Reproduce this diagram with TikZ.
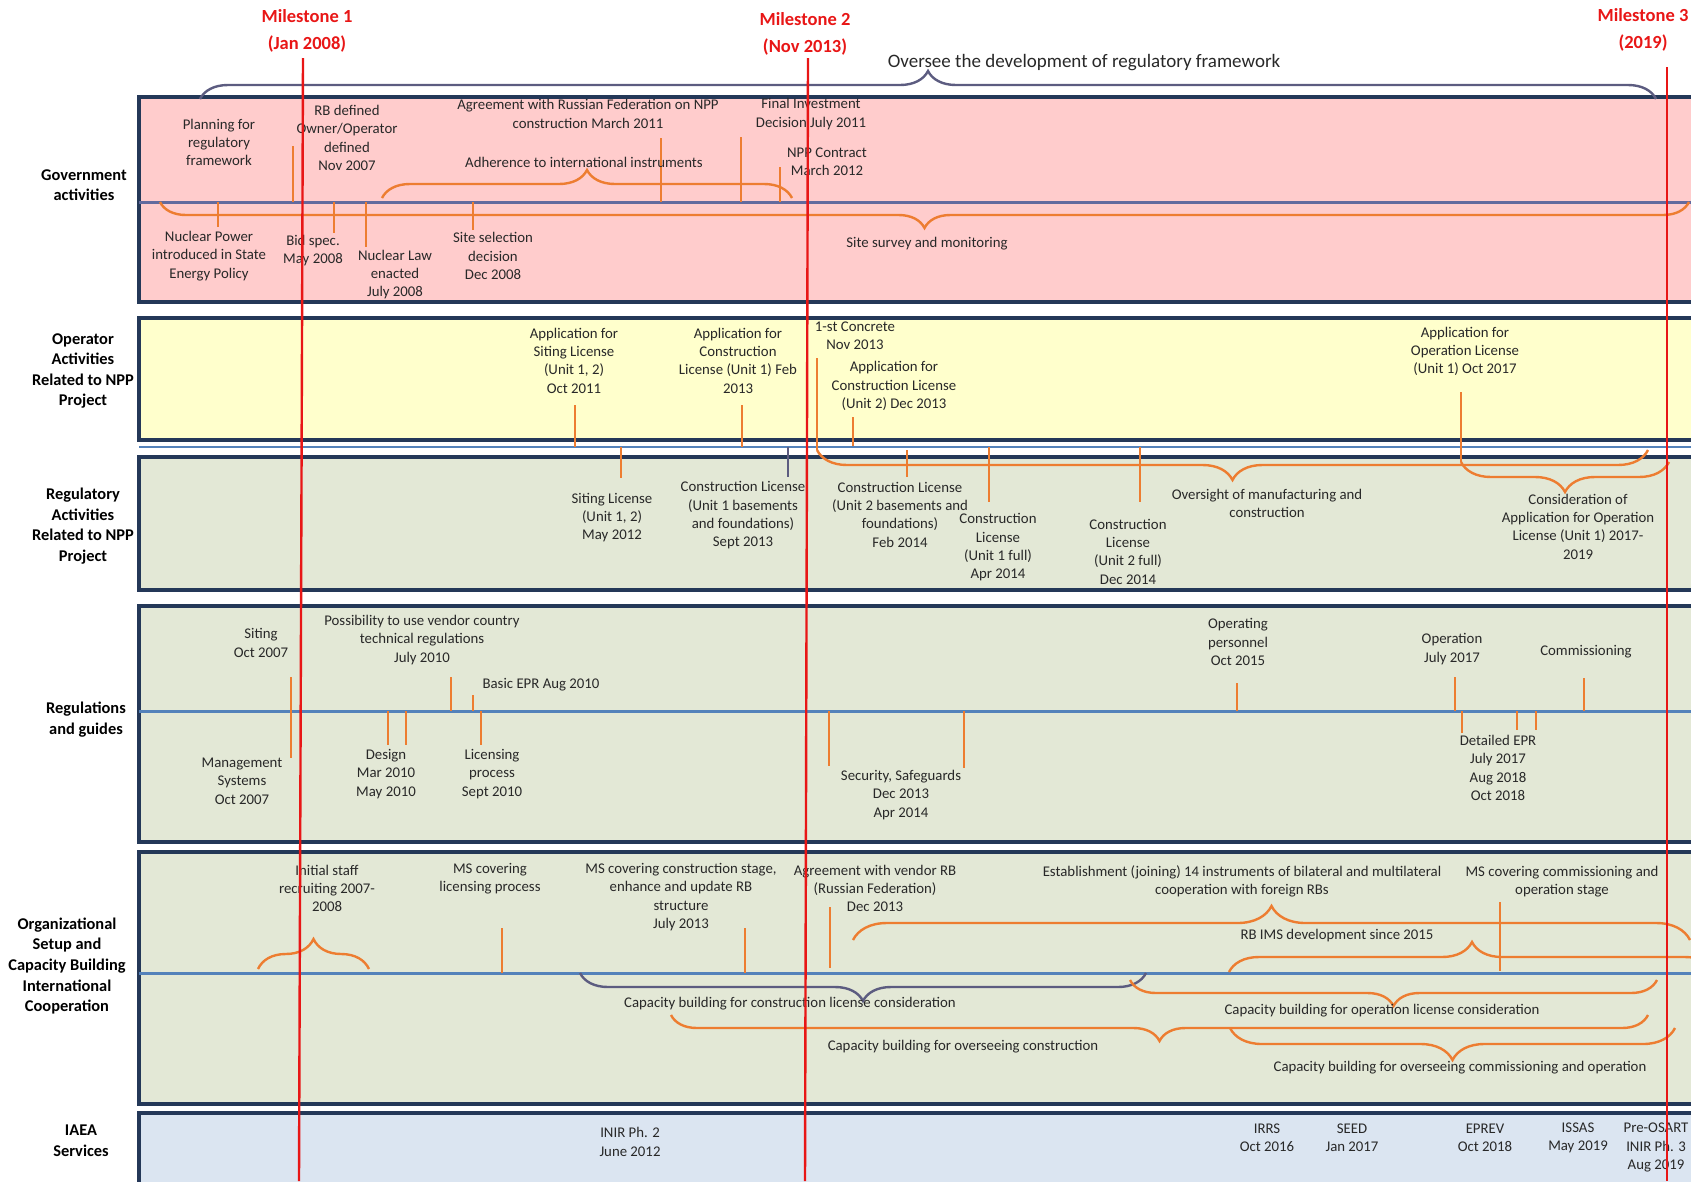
\documentclass[tikz,border=0pt]{standalone}
\usepackage{fontspec}
\setmainfont{Carlito}
\usetikzlibrary{decorations.pathreplacing}

\definecolor{navy}{RGB}{36,56,88}
\definecolor{pinkband}{RGB}{255,204,204}
\definecolor{yellowband}{RGB}{255,255,204}
\definecolor{greyband}{RGB}{227,232,214}
\definecolor{blueband}{RGB}{219,229,241}
\definecolor{axisblue}{RGB}{84,130,186}
\definecolor{axispurple}{RGB}{98,106,158}
\definecolor{bracegrey}{RGB}{92,92,128}
\definecolor{tlorange}{RGB}{237,125,49}
\definecolor{msred}{RGB}{232,22,22}
\definecolor{txtgrey}{RGB}{40,40,40}

\tikzset{
  band/.style={draw=navy, line width=3.5pt},
  lbl/.style={align=center, inner sep=0pt, text=txtgrey, font=\fontsize{14.8}{18.3}\selectfont},
  hdr/.style={align=center, inner sep=0pt, font=\bfseries\fontsize{16.4}{20.6}\selectfont},
  mslbl/.style={align=center, inner sep=0pt, text=msred, font=\bfseries\fontsize{18.5}{27}\selectfont},
  tickln/.style={tlorange, line width=1.4pt},
  brup/.style={line width=2.4pt, decorate, decoration={brace, amplitude=#1}},
  brdown/.style={line width=2.4pt, decorate, decoration={brace, mirror, amplitude=#1}},
  msline/.style={msred, line width=2.4pt}
}

\begin{document}
\begin{tikzpicture}[x=1pt,y=-1pt]

  \useasboundingbox (0,0) rectangle (1691,1181);
  \clip (0,0) rectangle (1691,1181);

  % bands
  \draw[band, fill=pinkband]   (139,97)   rectangle (1720,302);
  \draw[band, fill=yellowband] (139,318)  rectangle (1720,440);
  \draw[axisblue, line width=2pt] (139,447) -- (1720,447);
  \draw[band, fill=greyband]   (139,457)  rectangle (1720,590);
  \draw[band, fill=greyband]   (139,606)  rectangle (1720,842);
  \draw[band, fill=greyband]   (139,852)  rectangle (1720,1104);
  \draw[band, fill=blueband]   (139,1113) rectangle (1720,1200);

  % time axes
  \draw[axispurple, line width=3pt] (139,202) -- (1720,202);
  \draw[axisblue, line width=3pt] (139,711) -- (1720,711);
  \draw[axisblue, line width=3pt] (139,973) -- (1720,973);

  % braces
  \draw[brup=28pt, bracegrey] (200,99) -- (1656,99);
  \draw[brup=28pt, tlorange] (382,198) -- (792,198);
  \draw[brdown=26pt, tlorange] (160,202) -- (1689,202);
  \draw[brdown=30pt, tlorange] (817,450) -- (1648,450);
  \draw[brdown=30pt, tlorange] (1461,462) -- (1669,462);
  \draw[brup=30pt, tlorange] (258,969) -- (369,969);
  \draw[brup=34pt, tlorange] (853,940) -- (1690,940);
  \draw[brup=30pt, tlorange] (1229,972) -- (1715,972);
  \draw[brdown=28pt, bracegrey] (580,973) -- (1146,973);
  \draw[brdown=26pt, tlorange] (1130,980) -- (1657,980);
  \draw[brdown=26pt, tlorange] (671,1015) -- (1648,1015);
  \draw[brdown=32pt, tlorange] (1230,1028) -- (1675,1028);

  % tick marks
  \foreach \x/\ya/\yb in {293/146/202, 218/202/227, 334/202/233, 366/202/247,
      473/202/230, 661/138/202, 741/137/202, 780/167/202,
      575/405/447, 742/405/447, 853/417/446, 817/358/450, 1461/392/462,
      621/447/478, 907/450/477, 989/447/502, 1140/447/502,
      291/677/758, 451/677/711, 473/695/711, 388/711/745, 406/711/745,
      481/711/745, 829/711/766, 964/711/768, 1237/683/711, 1455/677/711,
      1584/678/711, 1462/711/733, 1517/711/730, 1536/711/730,
      502/928/973, 745/928/973, 830/907/968, 1500/902/971}
    \draw[tickln] (\x,\ya) -- (\x,\yb);
  \draw[bracegrey, line width=1.4pt] (788,447) -- (788,477);

  % row headers
  \node[hdr] (govhdr) at (84,185) {Government\\activities};
  \node[hdr] (ophdr) at (83,371) {Operator\\Activities\\Related to NPP\\Project};
  \node[hdr] (reghdr) at (83,526) {Regulatory\\Activities\\Related to NPP\\Project};
  \node[hdr] (guidehdr) at (86,719.5) {Regulations\\and guides};
  \node[hdr] (orghdr) at (67,966) {Organizational\\Setup and\\Capacity Building\\International\\Cooperation};
  \node[hdr] (iaeahdr) at (81,1140.5) {IAEA\\Services};

  % government activities
  \node[lbl, font=\fontsize{19}{22}\selectfont] (oversee) at (1084,63) {Oversee the development of regulatory framework};
  \node[lbl] (planning) at (219,142.5) {Planning for\\regulatory\\framework};
  \node[lbl] (rbdefined) at (347,138) {RB defined\\Owner/Operator\\defined\\Nov 2007};
  \node[lbl] (agreeru) at (588,114) {Agreement with Russian Federation on NPP\\construction March 2011};
  \node[lbl] (finalinv) at (811,114) {Final Investment\\Decision July 2011};
  \node[lbl] (nppcontract) at (827,162) {NPP Contract\\March 2012};
  \node[lbl] (adherence) at (584,162) {Adherence to international instruments};
  \node[lbl] (nucpower) at (209,256) {Nuclear Power\\introduced in State\\Energy Policy};
  \node[lbl] (bidspec) at (313,250.5) {Bid spec.\\May 2008};
  \node[lbl] (nuclaw) at (395,274.5) {Nuclear Law\\enacted\\July 2008};
  \node[lbl] (sitesel) at (493,256) {Site selection\\decision\\Dec 2008};
  \node[lbl] (sitesurvey) at (927,244) {Site survey and monitoring};

  % operator activities
  \node[lbl] (appsiting) at (574,360.5) {Application for\\Siting License\\(Unit 1, 2)\\Oct 2011};
  \node[lbl] (appconone) at (738,360.5) {Application for\\Construction\\License (Unit 1) Feb\\2013};
  \node[lbl] (concrete) at (855,336) {1-st Concrete\\Nov 2013};
  \node[lbl] (appcontwo) at (894,386) {Application for\\Construction License\\(Unit 2) Dec 2013};
  \node[lbl] (appoper) at (1465,351.5) {Application for\\Operation License\\(Unit 1) Oct 2017};

  % regulatory activities
  \node[lbl] (sitinglic) at (612,517.5) {Siting License\\(Unit 1, 2)\\May 2012};
  \node[lbl] (conlicone) at (743,515.5) {Construction License\\(Unit 1 basements\\and foundations)\\Sept 2013};
  \node[lbl] (conlictwo) at (900,514.5) {Construction License\\(Unit 2 basements and\\foundations)\\Feb 2014};
  \node[lbl] (fullone) at (998,547.5) {Construction\\License\\(Unit 1 full)\\Apr 2014};
  \node[lbl] (fulltwo) at (1128,551.5) {Construction\\License\\(Unit 2 full)\\Dec 2014};
  \node[lbl] (oversight) at (1267,503.5) {Oversight of manufacturing and\\construction};
  \node[lbl] (consider) at (1578,526.5) {Consideration of\\Application for Operation\\License (Unit 1) 2017-\\2019};

  % regulations and guides
  \node[lbl] (siting) at (261,643) {Siting\\Oct 2007};
  \node[lbl] (mgmt) at (242,781) {Management\\Systems\\Oct 2007};
  \node[lbl] (vendor) at (422,640) {Possibility to use vendor country\\technical regulations\\July 2010};
  \node[lbl] (basicepr) at (541,685) {Basic EPR Aug 2010};
  \node[lbl] (design) at (386,774) {Design\\Mar 2010\\May 2010};
  \node[lbl] (licproc) at (492,774) {Licensing\\process\\Sept 2010};
  \node[lbl] (security) at (901,795) {Security, Safeguards\\Dec 2013\\Apr 2014};
  \node[lbl] (operpers) at (1238,642) {Operating\\personnel\\Oct 2015};
  \node[lbl] (operation) at (1452,649) {Operation\\July 2017};
  \node[lbl] (commiss) at (1586,652) {Commissioning};
  \node[lbl] (detepr) at (1498,768) {Detailed EPR\\July 2017\\Aug 2018\\Oct 2018};

  % organizational setup
  \node[lbl] (initstaff) at (327,888.5) {Initial staff\\recruiting 2007-\\2008};
  \node[lbl] (mslic) at (490,879) {MS covering\\licensing process};
  \node[lbl] (msconstr) at (681,897) {MS covering construction stage,\\enhance and update RB\\structure\\July 2013};
  \node[lbl] (agreevendor) at (875,888.5) {Agreement with vendor RB\\(Russian Federation)\\Dec 2013};
  \node[lbl] (establish) at (1242,881.5) {Establishment (joining) 14 instruments of bilateral and multilateral\\cooperation with foreign RBs};
  \node[lbl] (mscomm) at (1562,881.5) {MS covering commissioning and\\operation stage};
  \node[lbl] (rbims) at (1337,936) {RB IMS development since 2015};
  \node[lbl] (cbconlic) at (790,1004) {Capacity building for construction license consideration};
  \node[lbl] (cboperlic) at (1382,1011) {Capacity building for operation license consideration};
  \node[lbl] (cbovcon) at (963,1047) {Capacity building for overseeing construction};
  \node[lbl] (cbovcomm) at (1460,1068) {Capacity building for overseeing commissioning and operation};

  % IAEA services
  \node[lbl] (inirtwo) at (630,1142) {INIR Ph. 2\\June 2012};
  \node[lbl] (irrs) at (1267,1138) {IRRS\\Oct 2016};
  \node[lbl] (seed) at (1352,1138) {SEED\\Jan 2017};
  \node[lbl] (eprev) at (1485,1138) {EPREV\\Oct 2018};
  \node[lbl] (issas) at (1578,1138) {ISSAS\\May 2019};
  \node[lbl] (preosart) at (1656,1147.5) {Pre-OSART\\INIR Ph. 3\\Aug 2019};

  % milestones
  \node[mslbl] (msone) at (307,30.5) {Milestone 1\\(Jan 2008)};
  \node[mslbl] (mstwo) at (805,33.5) {Milestone 2\\(Nov 2013)};
  \node[mslbl] (msthree) at (1643,30) {Milestone 3\\(2019)};
  \draw[msline] (303,58) -- (299,1181);
  \draw[msline] (808,58) -- (805,1181);
  \draw[msline] (1667,67) -- (1667,1181);

\end{tikzpicture}
\end{document}
